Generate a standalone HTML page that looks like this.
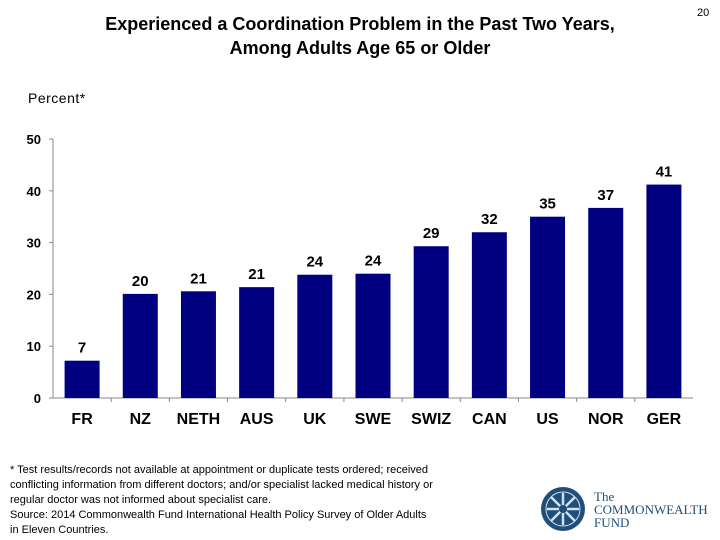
<!DOCTYPE html>
<html><head><meta charset="utf-8"><style>
body{margin:0;background:#fff;}
#wrap{position:relative;width:720px;height:540px;overflow:hidden;font-family:"Liberation Sans",Arial,sans-serif;}
.t{position:absolute;}
</style></head><body>
<div id="wrap">
<div class="t" style="left:60px;top:12px;width:600px;text-align:center;font-weight:bold;font-size:18px;line-height:24px;color:#000;">Experienced a Coordination Problem in the Past Two Years,<br>Among Adults Age 65 or Older</div>
<div class="t" style="left:697px;top:7px;font-size:11px;">20</div>
<div class="t" style="left:28px;top:90px;font-size:14px;letter-spacing:0.5px;">Percent*</div>
<svg id="chart" class="t" style="left:0;top:0" width="720" height="460"></svg>
<div class="t" style="left:10px;top:463px;font-size:11px;line-height:15px;width:455px;">* Test results/records not available at appointment or duplicate tests ordered; received conflicting information from different doctors; and/or specialist lacked medical history or regular doctor was not informed about specialist care.<br>Source: 2014 Commonwealth Fund International Health Policy Survey of Older Adults<br>in Eleven Countries.</div>
<svg class="t" style="left:540px;top:486px" width="46" height="46">
<circle cx="23" cy="23" r="22" fill="#1f4e79"/>
<circle cx="23" cy="23" r="17" fill="none" stroke="#cfe0ef" stroke-width="1"/>
<g stroke="#cfe0ef" stroke-width="2.5" stroke-linecap="round">
<line x1="23" y1="8" x2="23" y2="38"/><line x1="8" y1="23" x2="38" y2="23"/>
<line x1="12" y1="12" x2="34" y2="34"/><line x1="34" y1="12" x2="12" y2="34"/></g>
<circle cx="23" cy="23" r="4" fill="#1f4e79"/>
</svg>
<div class="t" style="left:594px;top:490px;font-family:'Liberation Serif',serif;color:#1f4e79;font-size:13px;line-height:13px;">The<br>COMMONWEALTH<br>FUND</div>
</div>
<script>
const categories=["FR","NZ","NETH","AUS","UK","SWE","SWIZ","CAN","US","NOR","GER"];
const values=[7.2,20.1,20.6,21.4,23.8,24,29.3,32,35,36.7,41.2];
const valueLabels=["7","20","21","21","24","24","29","32","35","37","41"];
const yTicks=[0,10,20,30,40,50];
const svg=document.getElementById('chart');
const NS='http://www.w3.org/2000/svg';
const x0=53,x1=693,y0=398,y1=139,yMax=50;
const step=(x1-x0)/categories.length;
const yS=v=>y0-(v/yMax)*(y0-y1);
const xC=i=>x0+step*(i+0.5);
function mk(tag,attrs){const e=document.createElementNS(NS,tag);for(const k in attrs)e.setAttribute(k,attrs[k]);svg.appendChild(e);return e;}
let ax=mk('line',{x1:x0,y1:y1,x2:x0,y2:y0,stroke:'#888','stroke-width':1});


let bx=mk('line',{x1:x0-4,y1:y0,x2:x1,y2:y0,stroke:'#888','stroke-width':1});


yTicks.forEach(t=>{
 let tk=mk('line',{x1:x0-4,y1:yS(t),x2:x0,y2:yS(t),stroke:'#888'});
 
 
 let tl=mk('text',{x:x0-12,y:yS(t)+5,'text-anchor':'end','font-size':13,'font-weight':'bold','font-family':'Liberation Sans, Arial, sans-serif'});
 tl.textContent=t;
 
 
});
categories.forEach((c,i)=>{
 if(i>0){let s=mk('line',{x1:x0+step*i,y1:y0,x2:x0+step*i,y2:y0+4,stroke:'#888'});
 
 }
 const w=35;
 let b=mk('rect',{x:xC(i)-w/2,y:yS(values[i]),width:w,height:y0-yS(values[i]),fill:'#000080'});
 
 
 let vl=mk('text',{x:xC(i),y:yS(values[i])-8,'text-anchor':'middle','font-size':15,'font-weight':'bold','font-family':'Liberation Sans, Arial, sans-serif'});
 vl.textContent=valueLabels[i];
 
 
 let cl=mk('text',{x:xC(i),y:424,'text-anchor':'middle','font-size':16,'font-weight':'bold','font-family':'Liberation Sans, Arial, sans-serif'});
 cl.textContent=c;
 
 
});
</script>
</body></html>
